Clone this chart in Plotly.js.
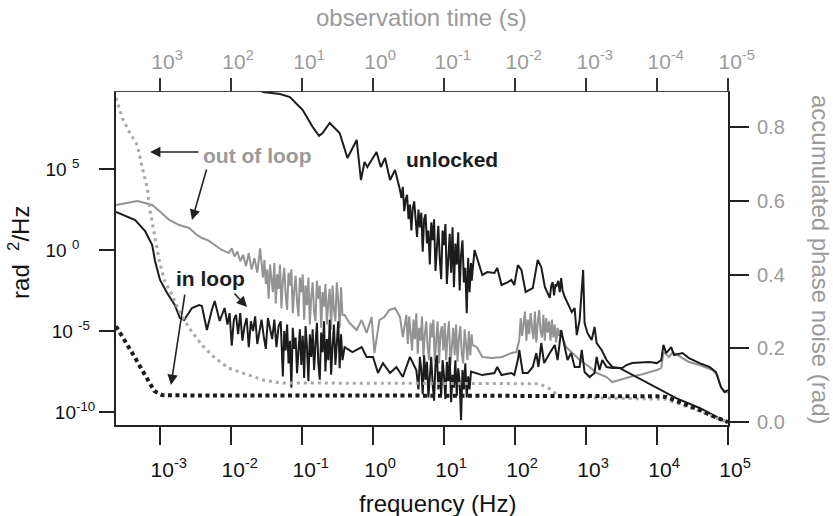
<!DOCTYPE html>
<html>
<head>
<meta charset="utf-8">
<script src="https://cdn.plot.ly/plotly-3.0.1.min.js"></script>
<style>html,body{margin:0;padding:0;background:#fff}#chart{width:833px;height:516px}</style>
</head>
<body>
<div id="chart"></div>
<script>
// ---- data (log10 of frequency [Hz] and log10 of PSD [rad^2/Hz]) ----
const unlockedLogF = [-1.90,-1.55,-1.31,-1.17,-0.99,-0.85,-0.76,-0.71,-0.61,-0.47,-0.36,-0.23,-0.17,-0.12,-0.08,0.05,0.11,0.17,0.24,0.31,0.38,
0.40,0.42,0.44,0.46,0.48,0.50,0.52,0.54,0.56,0.58,0.60,0.62,0.64,0.66,0.68,0.70,0.72,0.74,0.76,0.78,0.80,0.82,0.84,0.86,0.88,0.90,0.92,0.94,0.96,0.98,1.00,1.02,1.04,1.06,1.08,1.10,1.12,1.14,1.16,1.18,1.20,1.22,1.24,1.26,1.28,1.30,1.32,1.34,1.36,1.38,1.39,
1.43,1.54,1.61,1.71,1.75,1.81,1.90,1.95,1.99,2.04,2.09,2.15,2.25,2.32,2.37,2.42,2.49,2.51,2.53,2.55,2.57,2.58,2.61,2.63,2.65,2.67,2.70,2.74,2.80,2.84,2.87,2.91,2.96,2.98,3.02,3.08,3.12,3.15,3.22,3.29,3.37,3.47,3.71,3.99,4.27,4.60,4.92,5.00];
const unlockedLogP = [10.6,9.75,9.63,9.44,8.64,7.59,7.04,7.22,7.84,7.22,5.68,6.79,4.32,5.43,5.12,6.05,5.12,5.68,4.32,4.94,3.70,
3.2,3.9,2.4,3.1,3.4,1.9,2.8,1.2,2.6,3.0,1.6,0.8,2.5,1.4,2.3,-0.1,1.9,2.2,0.4,1.2,-0.9,1.7,0.6,1.9,-1.3,0.2,1.5,-0.5,-1.8,1.2,0.3,1.6,-2.1,-0.6,1.0,-1.4,1.4,-2.3,0.4,-0.9,1.1,-2.5,-0.3,0.6,-2.0,-1.1,-3.9,-0.5,-2.6,-0.8,-1.9,
0.00,-1.54,-1.36,-1.42,-1.11,-2.16,-1.98,-1.85,-2.16,-0.93,-1.23,-2.59,-2.35,-0.62,-1.05,-2.28,-2.96,-2.2,-1.98,-2.8,-2.1,-2.28,-1.9,-2.6,-1.73,-2.5,-2.90,-3.27,-3.83,-3.58,-5.25,-4.32,-1.23,-4.51,-5.12,-5.56,-4.75,-5.74,-6.17,-6.79,-7.22,-7.28,-7.84,-8.46,-9.14,-9.75,-10.49,-10.62];

const inLoopLogF = [-3.62,-3.35,-3.21,-3.11,-3.07,-3.00,-2.90,-2.79,-2.72,-2.66,-2.55,-2.45,-2.41,-2.34,-2.27,-2.23,-2.16,-2.09,
-2.05,-2.02,-1.99,-1.96,-1.93,-1.90,-1.87,-1.84,-1.81,-1.78,-1.75,-1.72,-1.69,-1.66,-1.63,-1.60,-1.57,-1.54,-1.51,-1.48,-1.45,-1.42,-1.39,-1.36,-1.33,-1.30,
-1.27,-1.25,-1.23,-1.21,-1.19,-1.17,-1.15,-1.13,-1.11,-1.09,-1.07,-1.05,-1.03,-1.01,-0.99,-0.97,-0.95,-0.93,-0.91,-0.89,-0.87,-0.85,-0.83,-0.81,-0.79,-0.77,-0.75,-0.73,-0.71,-0.69,-0.67,-0.65,-0.63,-0.61,-0.59,-0.57,-0.55,-0.53,-0.51,-0.49,-0.47,-0.45,-0.43,
-0.40,-0.29,-0.16,-0.09,0.00,0.07,0.14,0.24,0.33,0.42,0.52,0.61,
0.64,0.66,0.68,0.70,0.72,0.74,0.76,0.78,0.80,0.82,0.84,0.86,0.88,0.90,0.92,0.94,0.96,0.98,1.00,1.02,1.04,1.06,1.08,1.10,1.12,1.14,1.16,1.18,1.20,1.22,1.24,1.26,1.28,1.30,1.32,1.34,1.36,1.38,
1.40,1.54,1.71,1.75,1.81,1.95,1.99,2.04,2.06,2.11,2.18,2.25,2.30,2.33,2.37,2.41,2.49,2.56,2.60,2.65,2.70,2.74,2.79,2.84,2.91,2.94,2.98,3.05,3.12,3.15,3.19,3.23,3.29,3.37,3.51,3.57,3.65,3.89,4.00,4.06,4.09,4.13,4.20,4.24,4.36,4.45,4.60,4.74,4.83,4.90,4.95,5.00];
const inLoopLogP = [2.35,1.85,1.17,0.31,-0.68,-1.85,-2.65,-3.40,-4.20,-4.32,-3.58,-3.40,-3.46,-4.94,-3.70,-3.15,-4.38,-3.58,
-4.6,-3.9,-5.9,-4.3,-4.0,-5.2,-3.9,-5.6,-4.7,-4.2,-6.0,-4.4,-5.0,-4.1,-5.8,-5.1,-4.3,-5.3,-6.1,-4.2,-4.9,-5.5,-4.3,-6.0,-4.7,-4.4,
-7.8,-5.0,-6.2,-4.6,-7.0,-5.6,-8.5,-4.8,-6.1,-5.4,-7.6,-6.4,-4.9,-7.1,-5.3,-7.9,-4.7,-6.0,-8.1,-5.2,-6.6,-4.9,-7.4,-5.8,-4.5,-7.0,-8.0,-5.1,-6.3,-4.4,-7.5,-5.5,-6.8,-4.3,-7.7,-5.9,-4.6,-7.1,-6.0,-4.4,-7.3,-5.2,-6.8,
-5.99,-6.30,-5.99,-6.60,-6.60,-7.59,-6.98,-7.59,-7.22,-7.84,-6.60,-7.41,
-8.6,-6.6,-7.4,-8.9,-6.5,-8.0,-6.9,-9.1,-7.6,-6.6,-8.3,-9.3,-7.0,-6.5,-8.6,-7.5,-9.0,-6.8,-7.8,-9.2,-6.9,-8.1,-6.6,-9.4,-7.7,-8.5,-6.8,-9.0,-7.3,-8.1,-10.5,-7.4,-8.6,-7.0,-9.1,-7.8,-8.6,-7.5,
-7.53,-7.72,-7.59,-7.22,-7.72,-7.59,-7.72,-6.79,-6.17,-7.59,-7.59,-7.22,-6.36,-7.22,-5.74,-6.98,-6.36,-5.86,-6.79,-4.94,-5.99,-6.79,-6.36,-7.22,-7.22,-6.17,-7.53,-7.84,-7.59,-6.60,-7.41,-6.79,-7.22,-7.28,-7.28,-7.10,-6.98,-6.91,-6.98,-6.79,-5.86,-6.36,-5.99,-6.48,-6.36,-6.67,-6.98,-7.22,-7.53,-8.46,-8.77,-8.64];

const outLoopLogF = [-3.62,-3.49,-3.32,-3.21,-3.11,-3.01,-2.87,-2.73,-2.59,-2.48,-2.41,-2.31,-2.23,-2.13,-2.03,
-1.99,-1.95,-1.91,-1.87,-1.83,-1.79,-1.75,-1.71,-1.67,-1.63,-1.59,-1.55,
-1.53,-1.51,-1.49,-1.47,-1.45,-1.43,-1.41,-1.39,-1.37,-1.35,-1.33,-1.31,-1.29,-1.27,-1.25,-1.23,-1.21,-1.19,-1.17,-1.15,-1.13,-1.11,-1.09,-1.07,-1.05,-1.03,-1.01,-0.99,-0.97,-0.95,-0.93,-0.91,-0.89,-0.87,-0.85,-0.83,-0.81,-0.79,-0.77,-0.75,-0.73,-0.71,-0.69,-0.67,-0.65,-0.63,-0.61,-0.59,-0.57,-0.55,-0.53,-0.51,-0.49,-0.47,-0.45,-0.43,
-0.40,-0.33,-0.23,-0.16,-0.09,-0.02,0.02,0.09,0.16,0.23,0.31,0.38,0.42,0.47,
0.49,0.51,0.53,0.55,0.57,0.59,0.61,0.63,0.65,0.67,0.69,0.71,0.73,0.75,0.77,0.79,0.81,0.83,0.85,0.87,0.89,0.91,0.93,0.95,0.97,0.99,1.01,1.03,1.05,1.07,1.09,1.11,1.13,1.15,1.17,1.19,1.21,1.23,1.25,1.27,1.29,1.31,1.33,1.35,1.37,1.39,
1.40,1.46,1.54,1.68,1.82,1.95,2.02,2.06,
2.08,2.10,2.12,2.14,2.16,2.18,2.20,2.22,2.24,2.26,2.28,2.30,2.32,2.34,2.36,2.38,2.40,2.42,2.44,2.46,2.48,2.50,2.52,2.54,2.56,2.58,2.60,2.62,
2.63,2.72,2.81,2.91,3.05,3.15,3.29,3.37,3.47,3.61,3.75,3.89,4.00,4.06,4.09,4.17,4.22,4.45,4.60,4.78,4.85,4.90,4.97,5.00];
const outLoopLogP = [2.78,2.90,3.02,2.90,2.78,2.41,1.85,1.54,1.36,0.93,0.74,0.56,0.31,0.00,-0.19,
0.1,-0.4,-0.1,-0.7,-0.3,-1.0,-0.2,-1.2,-0.5,-1.4,0.1,-1.7,
-0.6,-2.1,-1.2,-3.0,-0.9,-1.8,-2.6,-0.8,-3.3,-1.5,-2.4,-0.9,-3.6,-1.9,-1.1,-2.8,-3.7,-1.4,-2.2,-1.2,-3.9,-2.5,-1.6,-3.2,-4.1,-1.7,-2.6,-1.5,-4.3,-2.2,-3.4,-1.7,-4.6,-2.9,-2.0,-3.8,-4.4,-1.9,-3.0,-2.2,-4.8,-2.6,-3.5,-2.1,-4.6,-3.2,-2.4,-4.9,-2.2,-3.7,-4.4,-2.0,-3.1,-4.8,-2.3,-4.0,
-4.01,-4.51,-4.94,-4.32,-5.12,-4.14,-6.36,-4.32,-4.14,-3.70,-3.58,-4.14,-5.37,-4.00,
-5.8,-4.1,-5.0,-6.2,-4.3,-5.5,-3.9,-6.4,-4.8,-5.6,-4.1,-6.6,-5.2,-4.4,-6.0,-6.8,-4.5,-5.4,-4.3,-6.9,-5.6,-4.4,-7.0,-5.1,-4.7,-6.2,-4.5,-6.8,-5.3,-4.4,-7.1,-5.7,-4.8,-6.5,-4.6,-6.9,-5.4,-4.7,-6.4,-7.0,-4.9,-5.8,-6.8,-5.0,-6.5,-5.2,
-5.86,-5.99,-6.60,-6.67,-6.60,-6.36,-6.30,-5.56,
-4.2,-5.3,-4.6,-3.8,-5.6,-4.3,-5.2,-3.9,-4.8,-5.5,-3.8,-5.7,-4.5,-3.7,-5.0,-5.4,-4.0,-5.6,-4.2,-5.1,-4.4,-5.6,-4.3,-5.4,-4.6,-5.7,-4.8,-5.3,
-4.94,-5.99,-6.36,-6.79,-7.22,-7.59,-7.84,-8.15,-8.02,-7.84,-7.72,-7.53,-7.41,-7.28,-6.30,-6.60,-6.30,-6.91,-7.10,-7.41,-7.72,-8.46,-8.77,-8.80];

// accumulated phase noise (rad) vs log10 frequency
const inLoopAccLogF = [-3.62,-3.49,-3.35,-3.21,-3.08,-2.97,-2.50,0.00,2.00,3.00,4.00,4.13,4.24,4.45,4.60,4.80,4.92,5.00];
const inLoopAcc     = [0.26,0.22,0.174,0.127,0.084,0.073,0.072,0.072,0.072,0.071,0.070,0.068,0.060,0.045,0.033,0.015,0.005,0.0];
const outLoopAccLogF = [-3.62,-3.53,-3.44,-3.32,-3.25,-3.18,-3.14,-3.08,-3.01,-2.94,-2.83,-2.73,-2.59,-2.41,-2.23,-2.03,-1.73,-1.55,-1.31,0.00,1.50,2.34,2.49,2.63,3.00,3.50,4.00,4.13,4.24,4.60,4.92,5.00];
const outLoopAcc     = [0.879,0.824,0.789,0.751,0.689,0.635,0.572,0.507,0.437,0.385,0.344,0.301,0.255,0.209,0.174,0.146,0.127,0.114,0.106,0.105,0.105,0.104,0.090,0.068,0.066,0.065,0.064,0.062,0.053,0.030,0.005,0.0];

// ticks
const freqTicks = [1e-3,1e-2,1e-1,1,1e1,1e2,1e3,1e4,1e5];
const freqTickText = ['\u00a0\u00a0\u00a010<sup>-3</sup>','\u00a0\u00a0\u00a010<sup>-2</sup>','\u00a0\u00a0\u00a010<sup>-1</sup>','\u00a0\u2009\u200910<sup>0</sup>','\u00a0\u2009\u200910<sup>1</sup>','\u00a0\u2009\u200910<sup>2</sup>','\u00a0\u2009\u200910<sup>3</sup>','\u00a0\u2009\u200910<sup>4</sup>','\u00a0\u2009\u200910<sup>5</sup>'];
const timeTicks = [1e3,1e2,1e1,1,1e-1,1e-2,1e-3,1e-4,1e-5];
const timeTickText = ['\u00a0\u2009\u200910<sup>3</sup>','\u00a0\u2009\u200910<sup>2</sup>','\u00a0\u2009\u200910<sup>1</sup>','\u00a0\u2009\u200910<sup>0</sup>','\u00a0\u00a0\u00a010<sup>-1</sup>','\u00a0\u00a0\u00a010<sup>-2</sup>','\u00a0\u00a0\u00a010<sup>-3</sup>','\u00a0\u00a0\u00a010<sup>-4</sup>','\u00a0\u00a0\u00a010<sup>-5</sup>'];
const psdTicks = [1e-10,1e-5,1,1e5];
const psdTickText = ['10<sup>-10</sup>','10 <sup>-5</sup>\u00a0','10 <sup>0</sup>\u00a0\u00a0\u00a0','10 <sup>5</sup>\u00a0\u00a0\u00a0'];
const accTicks = [0,0.2,0.4,0.6,0.8];
const accTickText = ['0.0','0.2','0.4','0.6','0.8'];

const pow10 = a => a.map(v => Math.pow(10, v));
const FONT = 'Arial, "Liberation Sans", Helvetica, sans-serif';
const BLACK = '#1c1c1c', GRAY = '#9a9a9a';

const traces = [
  {x: pow10(outLoopLogF), y: pow10(outLoopLogP), mode:'lines', line:{color:'#939393', width:2}, xaxis:'x', yaxis:'y', hoverinfo:'skip'},
  {x: pow10(inLoopLogF), y: pow10(inLoopLogP), mode:'lines', line:{color:BLACK, width:2}, xaxis:'x', yaxis:'y', hoverinfo:'skip'},
  {x: pow10(unlockedLogF), y: pow10(unlockedLogP), mode:'lines', line:{color:BLACK, width:2}, xaxis:'x', yaxis:'y', hoverinfo:'skip'},
  {x: pow10(outLoopAccLogF), y: outLoopAcc, mode:'lines', line:{color:'#a8a8a8', width:3, dash:'3px,4px'}, xaxis:'x', yaxis:'y2', hoverinfo:'skip'},
  {x: pow10(inLoopAccLogF), y: inLoopAcc, mode:'lines', line:{color:BLACK, width:4, dash:'4px,3.5px'}, xaxis:'x', yaxis:'y2', hoverinfo:'skip'},
  // carrier for the top (observation time) axis, not visible
  {x: timeTicks, y: [1,1,1,1,1,1,1,1,1], mode:'lines', line:{width:0, color:'rgba(0,0,0,0)'}, xaxis:'x2', yaxis:'y', hoverinfo:'skip'}
];

const arrow = (x, y, ax, ay) => ({xref:'paper', yref:'paper', x, y, ax, ay, text:'', showarrow:true,
  arrowhead:2, arrowsize:1.3, arrowwidth:1.6, arrowcolor:'#222', axref:'pixel', ayref:'pixel'});

const layout = {
  width:833, height:516,
  margin:{l:116, r:105, t:92, b:91, pad:0},
  paper_bgcolor:'#fff', plot_bgcolor:'#fff',
  showlegend:false,
  font:{family:FONT, color:BLACK},
  xaxis:{type:'log', range:[-3.62, 5.0], tickmode:'array', tickvals:freqTicks, ticktext:freqTickText,
    ticks:'outside', ticklen:18, tickwidth:2, tickcolor:'#222', showline:true, linecolor:'#222', linewidth:2,
    ticklabelstandoff:7,
    showgrid:false, zeroline:false, tickfont:{family:FONT, size:21, color:'#111'}},
  xaxis2:{type:'log', overlaying:'x', side:'top', range:[3.62, -5.0], tickmode:'array', tickvals:timeTicks, ticktext:timeTickText,
    ticks:'outside', ticklen:13, tickwidth:1.5, tickcolor:'#333', showline:true, linecolor:'#444', linewidth:1.5,
    showgrid:false, zeroline:false, tickfont:{family:FONT, size:21, color:GRAY}},
  yaxis:{type:'log', range:[-10.8, 9.75], tickmode:'array', tickvals:psdTicks, ticktext:psdTickText,
    ticks:'outside', ticklen:15, tickwidth:2, tickcolor:'#222', showline:true, linecolor:'#222', linewidth:2,
    showgrid:false, zeroline:false, tickfont:{family:FONT, size:19, color:'#111'}},
  yaxis2:{overlaying:'y', side:'right', range:[-0.008, 0.895], tickmode:'array', tickvals:accTicks, ticktext:accTickText,
    ticks:'outside', ticklen:19, tickwidth:2, tickcolor:'#222', showline:true, linecolor:'#222', linewidth:2,
    ticklabelstandoff:4,
    showgrid:false, zeroline:false, tickfont:{family:FONT, size:20, color:GRAY}},
  annotations:[
    {xref:'paper', yref:'paper', x:0.4984, y:1.2252, text:'observation time (s)', showarrow:false, xanchor:'center', yanchor:'middle', font:{family:FONT, size:24, color:GRAY}},
    {xref:'paper', yref:'paper', x:0.526, y:-0.2352, text:'frequency (Hz)', showarrow:false, xanchor:'center', yanchor:'middle', font:{family:FONT, size:24, color:'#111'}},
    {xref:'paper', yref:'paper', x:-0.1586, y:0.5195, text:'rad  <sup>2</sup>/Hz', textangle:-90, showarrow:false, xanchor:'center', yanchor:'middle', font:{family:FONT, size:24, color:'#111'}},
    {xref:'paper', yref:'paper', x:1.1503, y:0.4955, text:'accumulated phase noise (rad)', textangle:90, showarrow:false, xanchor:'center', yanchor:'middle', font:{family:FONT, size:24, color:GRAY}},
    {xref:'paper', yref:'paper', x:0.2304, y:0.8108, text:'<b>out of loop</b>', showarrow:false, xanchor:'center', yanchor:'middle', font:{family:FONT, size:21, color:GRAY}},
    {xref:'paper', yref:'paper', x:0.549, y:0.7958, text:'<b>unlocked</b>', showarrow:false, xanchor:'center', yanchor:'middle', font:{family:FONT, size:21, color:BLACK}},
    {xref:'paper', yref:'paper', x:0.1552, y:0.4414, text:'<b>in loop</b>', showarrow:false, xanchor:'center', yanchor:'middle', font:{family:FONT, size:21, color:BLACK}},
    arrow(0.0556, 0.8198, 50, 0),
    arrow(0.1242, 0.6156, 15, -52),
    arrow(0.2141, 0.3544, -14, -15),
    arrow(0.0899, 0.1201, 14, -92)
  ]
};

Plotly.newPlot('chart', traces, layout, {staticPlot:true, displayModeBar:false});
</script>
</body>
</html>
